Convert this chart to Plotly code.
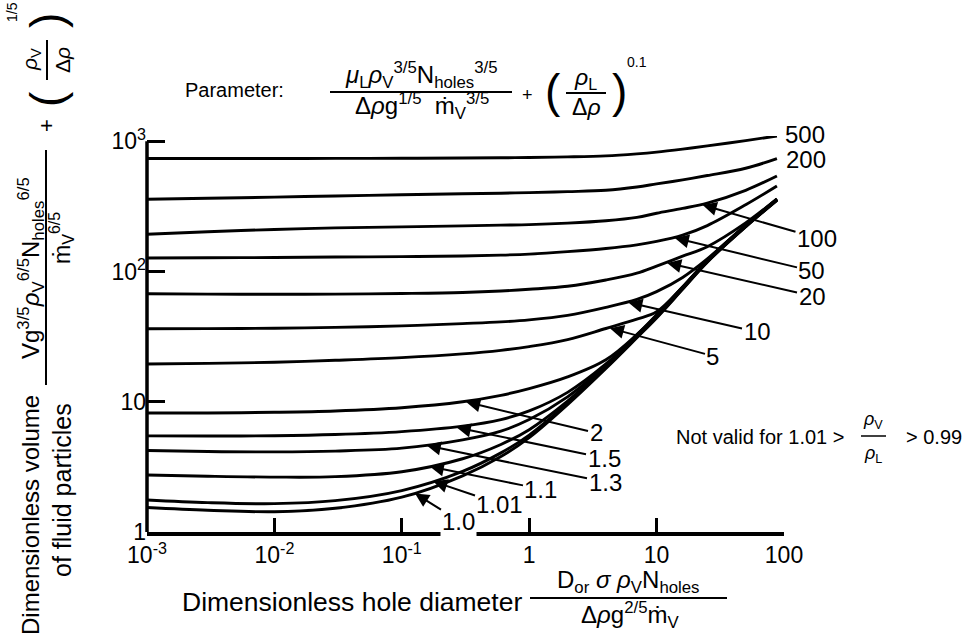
import numpy as np
import plotly.graph_objects as go

# ---------------------------------------------------------------- data
# dimensionless hole diameter sample points
x_pts = [0.001, 0.003, 0.01, 0.03, 0.1, 0.3, 0.6, 1, 2, 4, 7, 10, 16, 25, 50, 88]

# dimensionless volume for each parameter value
v_500 = [736, 736, 737, 738, 740, 743, 746, 750, 758, 772, 800, 825, 870, 920, 1010, 1097]
v_200 = [358, 365, 372, 380, 388, 395, 399, 403, 410, 420, 445, 470, 505, 545, 620, 736]
v_100 = [193, 202, 210, 216, 220, 224, 227, 229, 235, 245, 260, 280, 305, 335, 420, 541]
v_50 = [127, 127.5, 128, 129, 130, 131.5, 133.5, 136, 142, 150, 160, 170, 190, 225, 325, 453]
v_20 = [67.5, 67, 66.8, 67, 67.8, 69, 70.8, 73, 77, 86, 97, 110, 131, 155, 236, 361]
v_10 = [36.3, 36.4, 36.7, 37.2, 38.2, 39.8, 41, 42.5, 46, 53, 61, 70, 90, 125, 227, 359]
v_5 = [19.5, 19.7, 20.1, 20.8, 21.8, 23.3, 24.8, 26.5, 30, 36.5, 43, 49, 76, 122, 226, 358]
v_2 = [8.2, 8.2, 8.3, 8.5, 9.0, 10.0, 11.2, 12.6, 15.5, 21, 32.8, 46.5, 76, 121.5, 225, 357]
v_1_5 = [5.47, 5.45, 5.48, 5.6, 5.9, 6.5, 7.3, 8.5, 11.8, 19.5, 32.6, 46, 75.4, 121, 224, 356]
v_1_3 = [4.22, 4.15, 4.12, 4.18, 4.4, 5.1, 5.95, 7.3, 10.9, 19.0, 32.2, 45.5, 74.8, 120, 223, 355]
v_1_1 = [2.74, 2.68, 2.64, 2.66, 2.9, 3.65, 4.7, 6.1, 10.1, 18.6, 31.8, 45, 74.2, 119.5, 222, 354]
v_1_01 = [1.76, 1.68, 1.65, 1.74, 2.08, 2.92, 4.05, 5.55, 9.75, 18.3, 31.4, 44.5, 73.6, 118.8, 221, 353]
v_1_0 = [1.54, 1.47, 1.43, 1.52, 1.85, 2.7, 3.8, 5.3, 9.5, 18, 31, 44, 73, 118, 220, 352]

params = ["500", "200", "100", "50", "20", "10", "5", "2", "1.5", "1.3", "1.1", "1.01", "1.0"]
series = [v_500, v_200, v_100, v_50, v_20, v_10, v_5, v_2, v_1_5, v_1_3, v_1_1, v_1_01, v_1_0]
curves = dict(zip(params, series))

# where each labelled arrow meets its curve (x value)
arrow_x = {"100": 23, "50": 13.9, "20": 12.1, "10": 6.0, "5": 4.3,
           "2": 0.32, "1.5": 0.27, "1.3": 0.157, "1.1": 0.166, "1.01": 0.177, "1.0": 0.127}

x_tickvals = [0.001, 0.01, 0.1, 1, 10, 100]
x_ticktext = ["10<sup>-3</sup>", "10<sup>-2</sup>", "10<sup>-1</sup>", "1", "10", "100"]
y_tickvals = [1, 10, 100, 1000]
y_ticktext = ["1", "10", "10<sup>2</sup>", "10<sup>3</sup>"]

# ---------------------------------------------------------------- layout geometry
W, H = 973, 638
ML, MR, MT, MB = 147, 189, 136, 106
PW, PH = W - ML - MR, H - MT - MB
X_RANGE = (-3, 2)
Y_RANGE = (0, 3.04)
FONT = "Liberation Sans, Arial, Helvetica, sans-serif"


def paper(px, py):
    return (px - ML) / PW, (H - MB - py) / PH


def to_px(x, y):
    gx = ML + (np.log10(x) - X_RANGE[0]) / (X_RANGE[1] - X_RANGE[0]) * PW
    gy = H - MB - (np.log10(y) - Y_RANGE[0]) / (Y_RANGE[1] - Y_RANGE[0]) * PH
    return gx, gy


def curve_at(name, x):
    return 10 ** np.interp(np.log10(x), np.log10(x_pts), np.log10(curves[name]))


fig = go.Figure()
for name in params:
    fig.add_trace(go.Scatter(
        x=x_pts, y=curves[name], mode="lines", name=name, showlegend=False,
        line=dict(color="black", width=2.9, shape="spline", smoothing=1.0),
        hoverinfo="skip"))

annotations = []
shapes = []


def text(px, py, s, size, angle=0, **kw):
    xp, yp = paper(px, py)
    d = dict(x=xp, y=yp, xref="paper", yref="paper", text=s, showarrow=False,
             xanchor="center", yanchor="middle", textangle=angle,
             font=dict(size=size, color="black", family=FONT))
    d.update(kw)
    annotations.append(d)


def bar(x0, y0, x1, y1, w=2):
    a0, b0 = paper(x0, y0)
    a1, b1 = paper(x1, y1)
    shapes.append(dict(type="line", xref="paper", yref="paper", x0=a0, y0=b0,
                       x1=a1, y1=b1, line=dict(color="black", width=w)))


# labels with arrows pointing to their curves
arrow_label_pos = {"100": (817, 238), "50": (812, 271), "20": (812, 296), "10": (757, 332),
                   "5": (713, 356), "2": (596, 433), "1.5": (604, 458), "1.3": (605, 482),
                   "1.1": (541, 489), "1.01": (500, 504), "1.0": (459, 521)}
for name, (lx, ly) in arrow_label_pos.items():
    tx = arrow_x[name]
    ty = curve_at(name, tx) * 0.985
    tpx, tpy = to_px(tx, ty)
    extra = {}
    if name == "1.0":
        extra = dict(bgcolor="white", borderpad=1)
    annotations.append(dict(
        x=np.log10(tx), y=np.log10(ty), xref="x", yref="y", text=name,
        showarrow=True, axref="pixel", ayref="pixel", ax=lx - tpx, ay=ly - tpy,
        arrowhead=2, arrowsize=1.4, arrowwidth=2, arrowcolor="black", standoff=0,
        font=dict(size=24, color="black", family=FONT), **extra))

# end labels of the two highest curves
text(805, 135, "500", 24)
text(806, 159, "200", 24)

# parameter definition above the plot
text(234, 90, "Parameter:", 20)
text(421, 75, "<i>μ</i><sub>L</sub><i>ρ</i><sub>V</sub><sup>3/5</sup>N<sub>holes</sub><sup>3/5</sup>", 24)
bar(330, 92, 512, 92)
text(422, 106, "Δ<i>ρ</i>g<sup>1/5</sup>  ṁ<sub>V</sub><sup>3/5</sup>", 24)
text(527, 95, "+", 18)
text(553, 91, "(", 46)
text(619, 91, ")", 46)
text(585, 78, "<i>ρ</i><sub>L</sub>", 23)
bar(566, 93, 606, 93)
text(586, 107, "Δ<i>ρ</i>", 23)
text(637, 62, "0.1", 14)

# validity note
text(760, 437, "Not valid for 1.01 &gt;", 20)
text(873, 420, "<i>ρ</i><sub>V</sub>", 18)
bar(861, 436, 886, 436, 1.5)
text(873, 454, "<i>ρ</i><sub>L</sub>", 18)
text(934, 437, "&gt; 0.99", 20)

# x-axis title
text(352, 602, "Dimensionless hole diameter", 26.5)
text(628, 581, "D<sub>or</sub> <i>σ</i> <i>ρ</i><sub>V</sub>N<sub>holes</sub>", 24)
bar(530, 598, 727, 598)
text(630, 615, "Δ<i>ρ</i>g<sup>2/5</sup>ṁ<sub>V</sub>", 24)

# y-axis title (rotated)
text(30, 515, "Dimensionless volume", 24, -90)
text(62, 490, "of fluid particles", 25, -90)
text(31, 268, "Vg<sup>3/5</sup><i>ρ</i><sub>V</sub><sup>6/5</sup>N<sub>holes</sub><sup>6/5</sup>", 24, -90)
bar(46, 150, 46, 385)
text(61, 238, "ṁ<sub>V</sub><sup>6/5</sup>", 23, -90)
text(47, 126, "+", 22, -90)
text(47, 99, "(", 46, -90)
text(47, 21, ")", 46, -90)
text(31, 60, "<i>ρ</i><sub>V</sub>", 21, -90)
bar(47, 40, 47, 80)
text(62, 60, "Δ<i>ρ</i>", 21, -90)
text(12, 12, "1/5", 14, -90)

# y-axis line from 1 up to 10^3
shapes.append(dict(type="line", xref="paper", yref="paper", x0=0, x1=0, y0=0,
                   y1=(3 - Y_RANGE[0]) / (Y_RANGE[1] - Y_RANGE[0]),
                   line=dict(color="black", width=3.5)))

fig.update_layout(
    width=W, height=H, margin=dict(l=ML, r=MR, t=MT, b=MB),
    paper_bgcolor="white", plot_bgcolor="white",
    font=dict(family=FONT, color="black"),
    annotations=annotations, shapes=shapes,
    xaxis=dict(type="log", range=list(X_RANGE), tickvals=x_tickvals, ticktext=x_ticktext,
               ticks="inside", ticklen=14, tickwidth=3, tickcolor="black",
               showline=True, linewidth=3.5, linecolor="black",
               showgrid=False, zeroline=False, tickfont=dict(size=23, family=FONT)),
    yaxis=dict(type="log", range=list(Y_RANGE), tickvals=y_tickvals, ticktext=y_ticktext,
               ticks="inside", ticklen=18, tickwidth=3, tickcolor="black",
               showline=False, showgrid=False, zeroline=False,
               tickfont=dict(size=23, family=FONT)),
)

fig.write_html("out.html")
